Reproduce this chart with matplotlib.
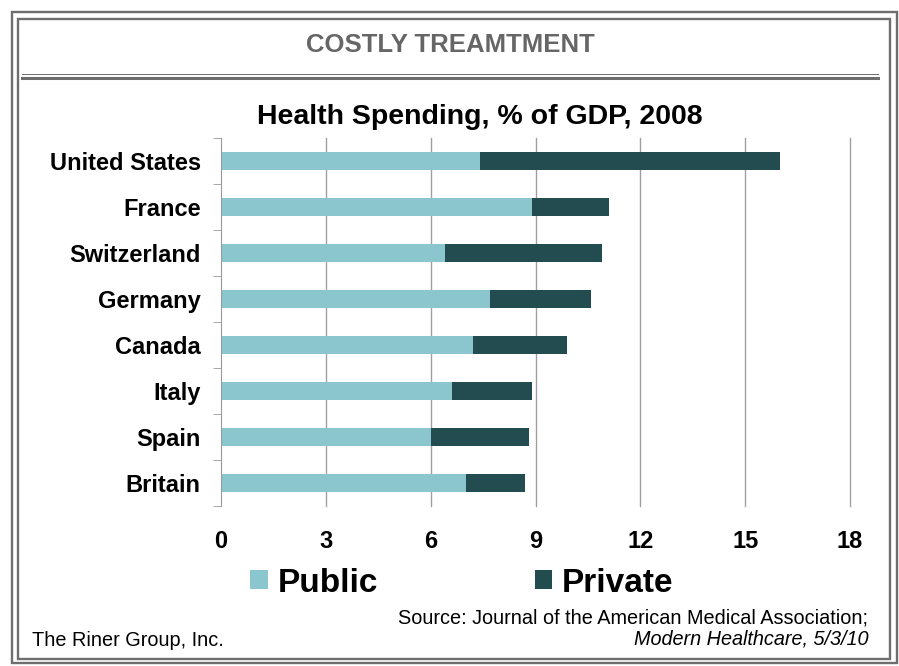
import matplotlib.pyplot as plt
from matplotlib.patches import Rectangle
from matplotlib.lines import Line2D

countries = ["United States", "France", "Switzerland", "Germany", "Canada", "Italy", "Spain", "Britain"]
public = [7.4, 8.9, 6.4, 7.7, 7.2, 6.6, 6.0, 7.0]
private = [8.6, 2.2, 4.5, 2.9, 2.7, 2.3, 2.8, 1.7]
xticks = [0, 3, 6, 9, 12, 15, 18]

c_pub = "#8BC6CE"
c_priv = "#234C50"
grey = "#6E6E6E"

plt.rcParams['font.family'] = ['Liberation Sans', 'DejaVu Sans']

W, H = 899, 666
fig = plt.figure(figsize=(W / 100, H / 100), dpi=100)

def fx(px):
    return px / W

def fy(py):
    return 1 - py / H

# outer frame (double line), pixel boxes
def frame(x0, y0, x1, y1, lw):
    fig.patches.append(Rectangle((fx(x0), fy(y1)), fx(x1 - x0), (y1 - y0) / H,
                                 transform=fig.transFigure, fill=False, ec=grey, lw=lw))

frame(12, 12, 897, 663, 1.7)
frame(18, 18.5, 890, 659, 1.7)
# header separator
fig.lines.append(Line2D([fx(22), fx(878)], [fy(73.5), fy(73.5)], transform=fig.transFigure, color=grey, lw=0.7))
fig.lines.append(Line2D([fx(22), fx(878)], [fy(77.5), fy(77.5)], transform=fig.transFigure, color=grey, lw=2.2))

fig.text(fx(450), fy(45), "COSTLY TREAMTMENT", ha="center", va="center", fontsize=18.5,
         fontweight="bold", color="#666666")
fig.text(fx(480), fy(117), "Health Spending, % of GDP, 2008", ha="center", va="center",
         fontsize=20.5, fontweight="bold")

ax = fig.add_axes([fx(221), fy(506), fx(850) - fx(221), (506 - 138) / H])
y = list(range(len(countries)))
ax.barh(y, public, height=0.4, color=c_pub, label="Public")
ax.barh(y, private, left=public, height=0.4, color=c_priv, label="Private")
ax.set_xlim(0, 18)
ax.set_ylim(len(countries) - 0.5, -0.5)
ax.set_xticks(xticks)
ax.set_xticklabels([str(t) for t in xticks], fontsize=17, fontweight="bold")
ax.set_yticks(y)
ax.set_yticklabels(countries, fontsize=17, fontweight="bold")
ax.tick_params(axis="y", length=0, pad=14.5)
ax.tick_params(axis="x", length=0, pad=17)
ax.set_yticks([i - 0.5 for i in range(len(countries) + 1)], minor=True)
ax.tick_params(axis="y", which="minor", length=6, color="#999999")
for t in xticks[1:]:
    ax.axvline(t, color="#A0A0A0", lw=1, zorder=0, clip_on=False)
for s in ["top", "right", "bottom"]:
    ax.spines[s].set_visible(False)
ax.spines["left"].set_color("#999999")

fig.legend(*ax.get_legend_handles_labels(), loc="center", bbox_to_anchor=(fx(462), fy(583)),
           ncol=2, frameon=False, prop={"size": 24, "weight": "bold"}, handlelength=0.52,
           handleheight=0.52, handletextpad=0.3, columnspacing=4.7, borderpad=0)

fig.text(fx(868), fy(618), "Source: Journal of the American Medical Association;", ha="right",
         va="center", fontsize=14.3)
fig.text(fx(868), fy(639), "Modern Healthcare, 5/3/10", ha="right", va="center", fontsize=14.3,
         style="italic")
fig.text(fx(32), fy(641), "The Riner Group, Inc.", ha="left", va="center", fontsize=14.3)

fig.savefig("out.png", dpi=100)
